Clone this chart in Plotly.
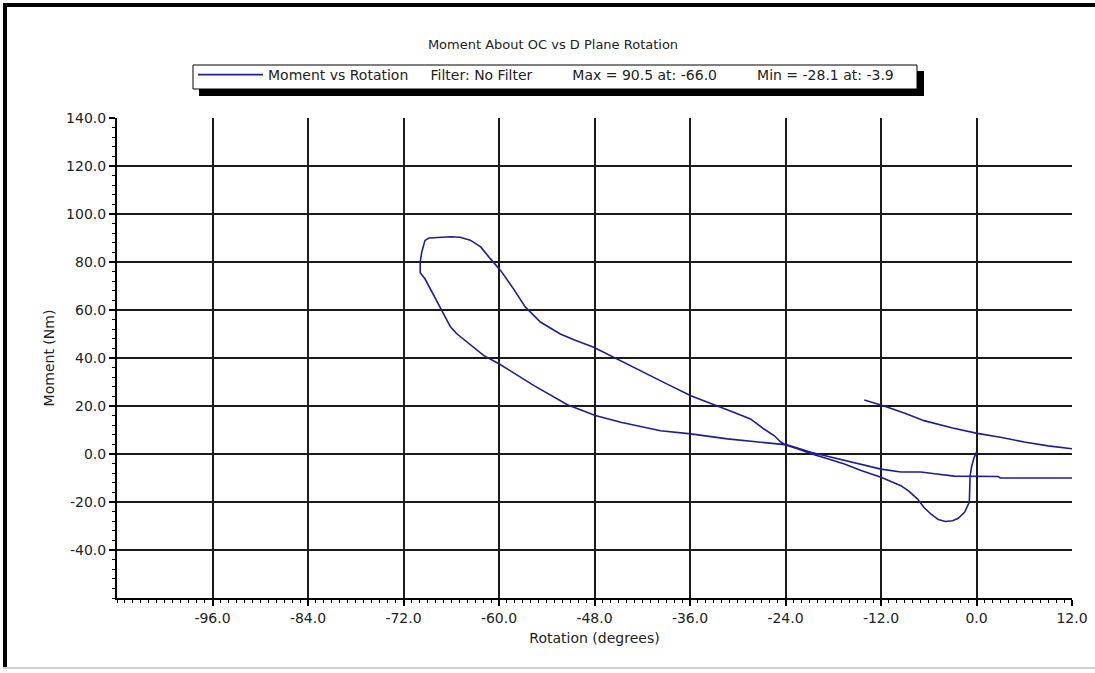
import plotly.graph_objects as go

# ---------------- data ----------------
chart_title = "Moment About OC vs D Plane Rotation"
x_title = "Rotation (degrees)"
y_title = "Moment (Nm)"
series_name = "Moment vs Rotation"
legend_notes = ["Filter: No Filter", "Max = 90.5 at: -66.0", "Min = -28.1 at: -3.9"]

x_tick_values = [-96, -84, -72, -60, -48, -36, -24, -12, 0, 12]
x_tick_labels = ["-96.0", "-84.0", "-72.0", "-60.0", "-48.0", "-36.0", "-24.0", "-12.0", "0.0", "12.0"]
y_tick_values = [-40, -20, 0, 20, 40, 60, 80, 100, 120, 140]
y_tick_labels = ["-40.0", "-20.0", "0.0", "20.0", "40.0", "60.0", "80.0", "100.0", "120.0", "140.0"]

# short separate segment (upper right)
rotation_a = [-14.1, -11.8, -9.0, -6.6, -3.0, 0.1, 3.0, 6.0, 9.0, 12.0]
moment_a = [22.5, 20.2, 17.0, 13.9, 10.8, 8.6, 7.0, 5.0, 3.4, 2.2]

# main loop
rotation_b = [0.0, -0.3, -0.6, -0.8, -0.9, -1.5, -2.3, -3.0, -3.9, -4.8, -5.7, -6.6,
              -7.4, -8.5, -9.5, -12.0, -14.5, -16.6, -18.7, -20.7, -22.5, -23.8, -24.6,
              -25.4, -26.7, -28.4, -30.2, -32.2, -35.9, -38.8, -41.8, -45.6, -48.1, -50.5,
              -52.3, -54.8, -56.7, -58.2, -59.8, -61.1, -62.3, -63.6, -64.9, -66.0, -67.4,
              -68.8, -69.3, -69.7, -69.9, -69.9, -69.3, -68.2, -67.2, -66.1, -65.3, -64.0,
              -61.9, -60.0, -55.6, -51.4, -47.9, -44.7, -39.7, -35.9, -31.3, -27.1, -23.8,
              -20.7, -16.6, -12.0, -9.5, -7.0, -5.0, -2.8, 2.7, 3.0, 12.0]
moment_b = [0.8, -1.5, -5.0, -9.0, -20.0, -24.3, -26.8, -27.8, -28.1, -27.3, -25.1, -22.3,
            -18.8, -15.5, -13.2, -9.7, -6.9, -4.2, -2.0, 0.0, 2.2, 3.5, 5.0,
            7.6, 10.4, 14.6, 17.0, 19.5, 24.3, 29.0, 34.1, 40.4, 44.5, 47.5,
            50.0, 55.0, 61.3, 68.9, 76.5, 81.4, 86.3, 89.1, 90.3, 90.5, 90.4,
            90.0, 89.0, 84.2, 80.0, 75.5, 73.0, 66.1, 59.5, 53.0, 50.1, 46.5,
            41.0, 37.6, 28.5, 20.5, 16.0, 13.2, 9.7, 8.4, 6.3, 4.9, 3.8,
            0.6, -2.8, -6.3, -7.5, -7.5, -8.3, -9.2, -9.4, -10.0, -10.0]

# ---------------- layout helpers ----------------
W, H = 1095, 673
L, R, T, B = 117, 1072, 118, 598   # plot area in pixels


def px(xp):
    return (xp - L) / (R - L)


def py(yp):
    return (B - yp) / (B - T)


FONT = "DejaVu Sans, Arial, sans-serif"
NB = "\u00a0"
legend_text = (series_name + NB * 5 + legend_notes[0] + NB * 9 + legend_notes[1]
               + NB * 9 + legend_notes[2])

fig = go.Figure()
fig.add_trace(go.Scatter(
    x=rotation_a + [None] + rotation_b,
    y=moment_a + [None] + moment_b,
    mode="lines",
    name=legend_text,
    line=dict(color="#1e1e96", width=1.6),
    connectgaps=False,
    showlegend=True,
))

axis_common = dict(
    showline=True, linecolor="black", linewidth=2,
    ticks="outside", ticklen=6, tickwidth=1.5, tickcolor="black",
    showgrid=True, gridcolor="#1a1a1a", gridwidth=1.5,
    zeroline=False, automargin=False,
    tickfont=dict(family=FONT, size=14, color="#222222"),
    mirror=False,
)

fig.update_xaxes(
    range=[-108, 12], tickmode="array", tickvals=x_tick_values, ticktext=x_tick_labels,
    minor=dict(tick0=0, dtick=1, ticks="outside", ticklen=3, tickcolor="black", tickwidth=1, showgrid=False),
    title=dict(text=x_title, font=dict(family=FONT, size=14, color="#222222"), standoff=8),
    **axis_common,
)
fig.update_yaxes(
    range=[-60, 140], tickmode="array", tickvals=y_tick_values, ticktext=y_tick_labels,
    minor=dict(tick0=0, dtick=4, ticks="outside", ticklen=3, tickcolor="black", tickwidth=1, showgrid=False),
    title=dict(text=y_title, font=dict(family=FONT, size=14, color="#222222"), standoff=8),
    **axis_common,
)

shapes = [
    # legend shadow
    dict(type="rect", xref="paper", yref="paper", layer="above",
         x0=px(199), x1=px(924), y0=py(96), y1=py(71),
         fillcolor="black", line=dict(width=0)),
    # legend box
    dict(type="rect", xref="paper", yref="paper", layer="above",
         x0=px(193), x1=px(917), y0=py(89), y1=py(65),
         fillcolor="white", line=dict(color="black", width=1)),
    # outer frame (sunken-window look)
    dict(type="line", xref="paper", yref="paper", x0=px(5), x1=px(5), y0=py(669), y1=py(3),
         line=dict(color="black", width=4)),
    dict(type="line", xref="paper", yref="paper", x0=px(3), x1=px(1095), y0=py(5), y1=py(5),
         line=dict(color="black", width=4)),
    dict(type="line", xref="paper", yref="paper", x0=px(3), x1=px(1095), y0=py(668), y1=py(668),
         line=dict(color="#d0d0d0", width=2)),
]

fig.update_layout(
    width=W, height=H,
    margin=dict(l=L, r=W - R, t=T, b=H - B, autoexpand=False),
    paper_bgcolor="white", plot_bgcolor="white",
    title=dict(text=chart_title, x=px(553), xref="paper", xanchor="center",
               y=1 - 44 / H, yref="container", yanchor="middle",
               font=dict(family=FONT, size=13, color="#222222")),
    showlegend=True,
    legend=dict(x=px(193), xanchor="left", y=py(59), yanchor="top",
                bgcolor="rgba(0,0,0,0)", borderwidth=0,
                font=dict(family=FONT, size=14, color="#222222"),
                itemwidth=65, orientation="h"),
    shapes=shapes,
)

fig.write_html("out.html", config={"displayModeBar": False},
               post_script="document.body.style.margin='0';document.body.style.padding='0';")
